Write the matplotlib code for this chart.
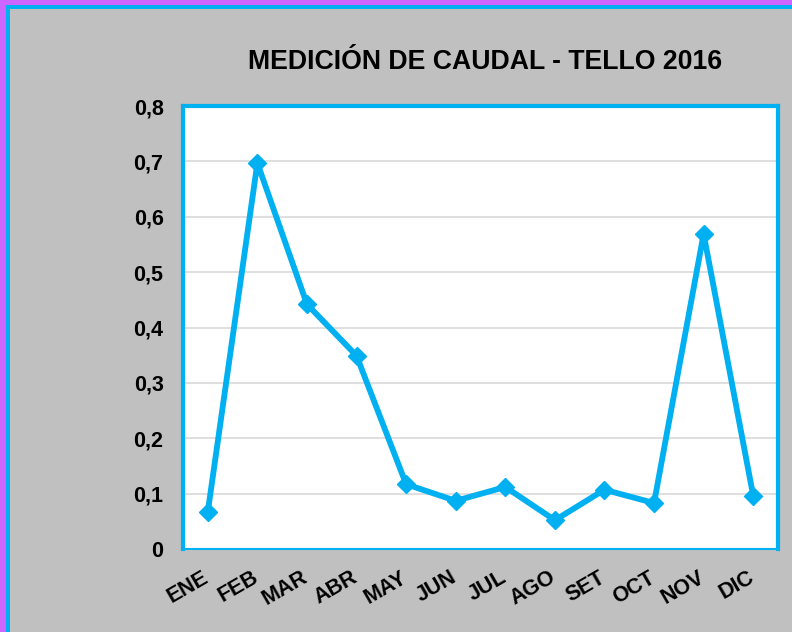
import matplotlib
matplotlib.use("Agg")
import matplotlib.pyplot as plt
import matplotlib.transforms as mtransforms
from matplotlib.patches import Rectangle

months = ["ENE", "FEB", "MAR", "ABR", "MAY", "JUN", "JUL", "AGO", "SET", "OCT", "NOV", "DIC"]
caudal = [0.067, 0.697, 0.442, 0.349, 0.117, 0.087, 0.112, 0.052, 0.107, 0.083, 0.569, 0.096]
y_ticks = [0.0, 0.1, 0.2, 0.3, 0.4, 0.5, 0.6, 0.7, 0.8]
y_labels = ["0", "0,1", "0,2", "0,3", "0,4", "0,5", "0,6", "0,7", "0,8"]

CYAN = "#00B0F0"
GRAY = "#C0C0C0"
MAGENTA = "#CC66FF"

plt.rcParams["font.family"] = ["Liberation Sans", "DejaVu Sans"]
plt.rcParams["font.weight"] = "bold"

W, H = 792, 632
fig = plt.figure(figsize=(W / 100, H / 100), dpi=100, facecolor=GRAY)

# outer frame: magenta strip then cyan strip on top and left edges
def strip(x0, y0, w, h, color):
    fig.patches.append(Rectangle((x0 / W, 1 - (y0 + h) / H), w / W, h / H,
                                 transform=fig.transFigure, facecolor=color,
                                 edgecolor="none", zorder=0))

strip(0, 0, W, 5, MAGENTA)
strip(0, 0, 6, H, MAGENTA)
strip(6, 5, W, 4, CYAN)
strip(6, 5, 4, H, CYAN)

left, right, top, bottom = 183, 778, 106, 549
ax = fig.add_axes([left / W, 1 - bottom / H, (right - left) / W, (bottom - top) / H])
ax.set_facecolor("white")

x = list(range(len(months)))
ax.plot(x, caudal, color=CYAN, linewidth=4.2, marker="D", markersize=9,
        markeredgecolor=CYAN, markerfacecolor=CYAN, zorder=3, clip_on=False)

ax.set_xlim(-0.5, len(months) - 0.5)
ax.set_ylim(0, 0.8)
ax.set_yticks(y_ticks)
ax.set_yticklabels(y_labels, fontsize=15.5, fontweight="bold")
ax.set_xticks(x)
ax.set_xticklabels(months, fontsize=15.5, fontweight="bold", rotation=30,
                   ha="right", rotation_mode="anchor")
ax.tick_params(axis="x", length=0, pad=13)
ax.tick_params(axis="y", length=0, pad=14)
shift = mtransforms.ScaledTranslation(-6 / 100, 0, fig.dpi_scale_trans)
for lbl in ax.get_xticklabels():
    lbl.set_transform(lbl.get_transform() + shift)
ax.grid(axis="y", color="#D9D9D9", linewidth=1.2, zorder=0)
ax.set_axisbelow(True)
for side in ["left", "right", "top"]:
    ax.spines[side].set_color(CYAN)
    ax.spines[side].set_linewidth(3)
ax.spines["bottom"].set_color(CYAN)
ax.spines["bottom"].set_linewidth(1.5)

fig.text(485 / W, 1 - 62 / H, "MEDICIÓN DE CAUDAL - TELLO 2016", fontsize=19.2,
         fontweight="bold", ha="center", va="center")

fig.savefig("out.png", dpi=100, facecolor=GRAY)
